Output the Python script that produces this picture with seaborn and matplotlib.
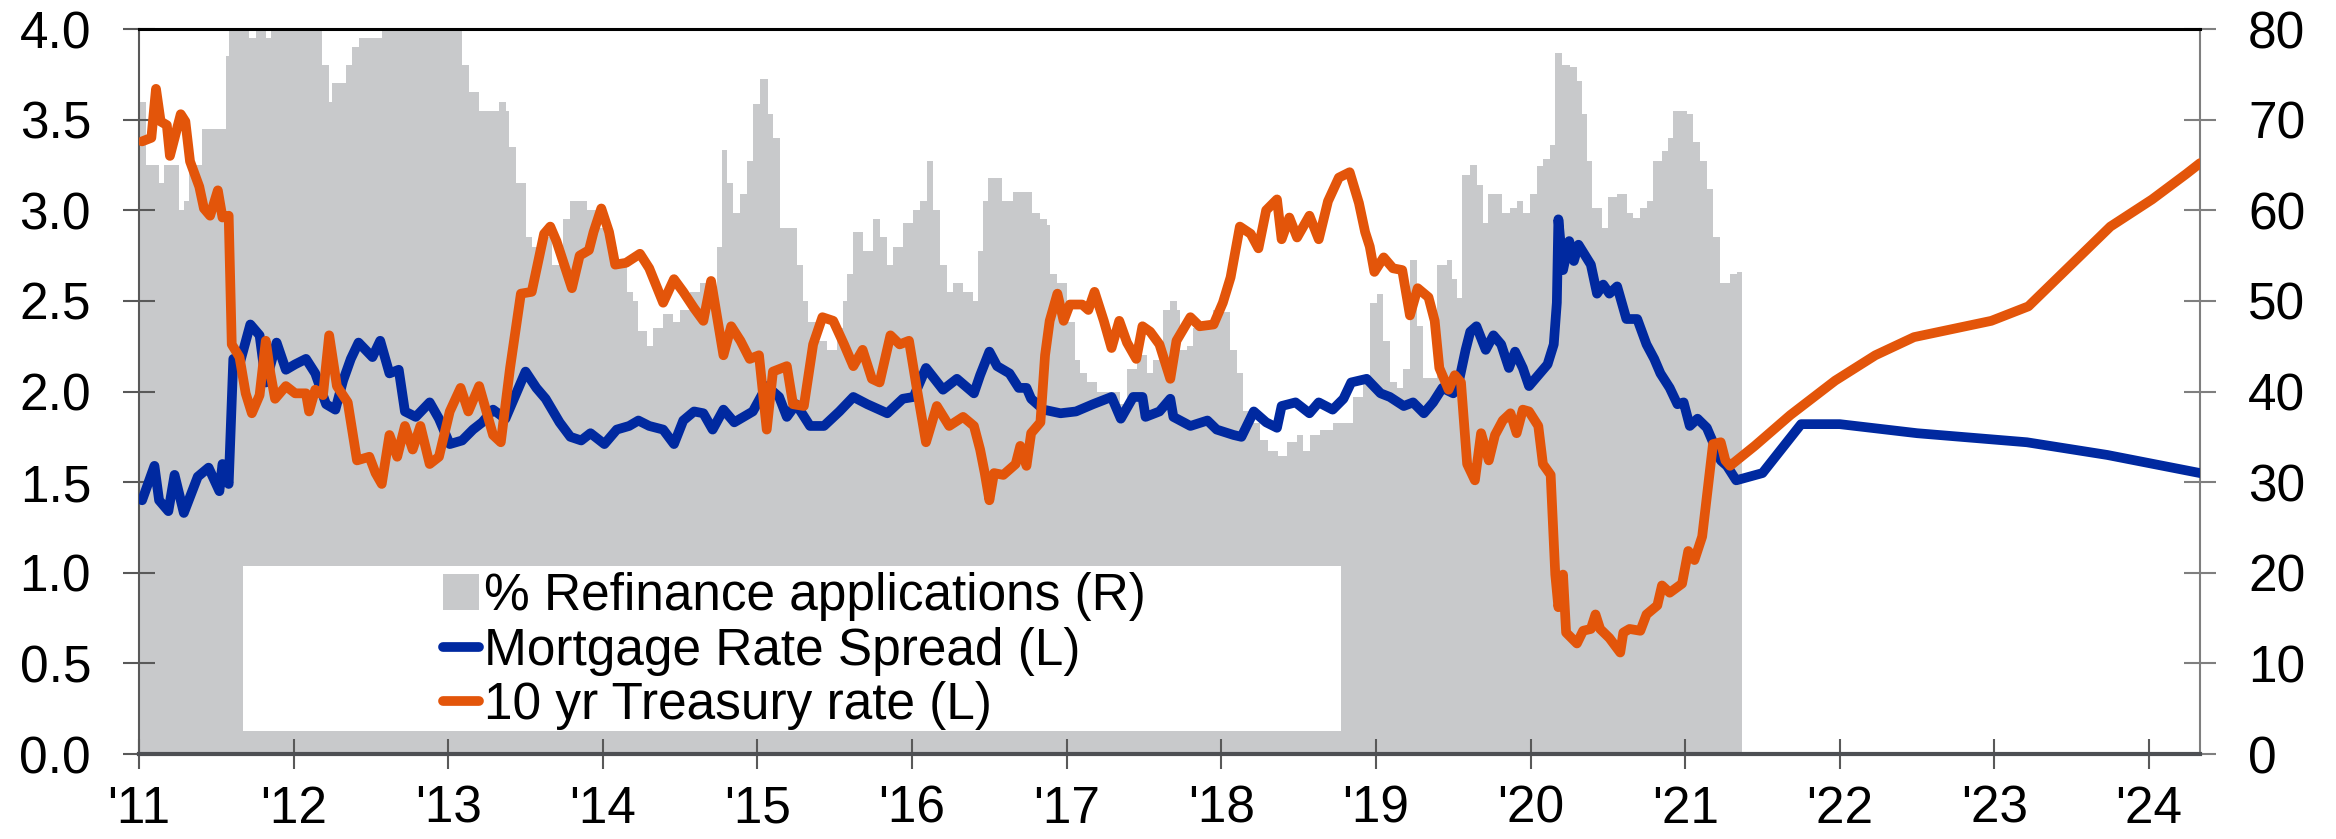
import numpy as np
import matplotlib
matplotlib.use("Agg")
import matplotlib.pyplot as plt
import seaborn as sns
from matplotlib.patches import Patch, Rectangle
from matplotlib.lines import Line2D

# % refinance applications (right axis)
refi_years = [2011.0, 2011.043, 2011.129, 2011.162, 2011.259, 2011.291, 2011.323, 2011.41, 2011.561, 2011.582,
              2011.712, 2011.755, 2011.819, 2011.852, 2012.186, 2012.229, 2012.251, 2012.337, 2012.38, 2012.423,
              2012.574, 2013.091, 2013.135, 2013.199, 2013.329, 2013.372, 2013.393, 2013.436, 2013.501, 2013.544,
              2013.609, 2013.674, 2013.744, 2013.787, 2013.895, 2013.981, 2014.025, 2014.089, 2014.154, 2014.197,
              2014.229, 2014.283, 2014.326, 2014.391, 2014.456, 2014.499, 2014.564, 2014.628, 2014.693, 2014.736,
              2014.768, 2014.801, 2014.844, 2014.887, 2014.93, 2014.973, 2015.016, 2015.07, 2015.103, 2015.146,
              2015.254, 2015.297, 2015.329, 2015.383, 2015.448, 2015.512, 2015.555, 2015.577, 2015.62, 2015.685,
              2015.749, 2015.792, 2015.836, 2015.879, 2015.943, 2016.008, 2016.051, 2016.094, 2016.137, 2016.181,
              2016.224, 2016.267, 2016.332, 2016.396, 2016.429, 2016.461, 2016.493, 2016.58, 2016.655, 2016.774,
              2016.827, 2016.871, 2016.892, 2016.935, 2017.0, 2017.054, 2017.086, 2017.129, 2017.194, 2017.345,
              2017.388, 2017.453, 2017.517, 2017.561, 2017.625, 2017.668, 2017.711, 2017.733, 2017.776, 2017.819,
              2017.906, 2017.949, 2018.013, 2018.056, 2018.1, 2018.143, 2018.207, 2018.25, 2018.304, 2018.369,
              2018.423, 2018.488, 2018.531, 2018.574, 2018.639, 2018.725, 2018.854, 2018.919, 2018.962, 2019.005,
              2019.048, 2019.091, 2019.134, 2019.178, 2019.221, 2019.264, 2019.307, 2019.393, 2019.458, 2019.49,
              2019.523, 2019.555, 2019.609, 2019.652, 2019.695, 2019.727, 2019.814, 2019.868, 2019.911, 2019.954,
              2019.997, 2020.04, 2020.083, 2020.126, 2020.159, 2020.202, 2020.256, 2020.299, 2020.331, 2020.363,
              2020.396, 2020.46, 2020.504, 2020.558, 2020.622, 2020.665, 2020.708, 2020.752, 2020.795, 2020.849,
              2020.892, 2020.924, 2021.01, 2021.053, 2021.096, 2021.14, 2021.183, 2021.226, 2021.291, 2021.334,
              2021.37]
refi_pct = [72, 65, 63, 65, 60, 61, 65, 69, 77, 80,
            79, 80, 79, 80, 76, 72, 74, 76, 78, 79,
            80, 76, 73, 71, 72, 71, 67, 63, 57, 56,
            57, 54, 59, 61, 60, 58, 56, 54, 51, 50,
            46.7, 45, 47, 48.5, 47.7, 49, 51, 52, 51, 56,
            66.7, 63, 59.7, 61.8, 65.4, 71.7, 74.5, 70.6, 68, 58,
            54, 50, 47.7, 45.6, 44.6, 47, 50, 53, 57.6, 55.5,
            59, 57, 54, 56, 58.6, 60, 61, 65.4, 60, 54,
            51, 52, 51, 50, 55.5, 61, 63.6, 61, 62, 59.7,
            59, 58.4, 53, 52, 47.7, 43.5, 42, 41, 40, 38.6,
            42.5, 44, 42, 43.5, 49, 50, 49, 44.6, 45, 47,
            47.7, 49, 48.8, 44.6, 42, 37.8, 36.5, 34.7, 33.4, 32.9,
            34.4, 35.2, 33.4, 35.2, 35.7, 36.5, 39.4, 41.5, 49.8, 50.8,
            45.6, 41, 40.4, 42.5, 54.5, 47.2, 41.5, 54, 54.5, 52.4,
            50.3, 63.9, 65, 62.8, 58.6, 61.8, 59.7, 60.2, 61, 59.7,
            61.8, 64.9, 65.7, 67.2, 77.4, 76, 75.8, 74.3, 70.6, 65.4,
            60.2, 58, 61.5, 61.8, 59.7, 59.2, 60.2, 61, 65.4, 66.5,
            68, 71, 70.6, 67.5, 65.4, 62.3, 57, 52, 53, 53.2,
            53.2]

# Mortgage rate spread (left axis), history then projection
spread_years = [2011.02, 2011.10, 2011.13, 2011.19, 2011.23, 2011.29, 2011.38, 2011.45, 2011.52, 2011.54,
                2011.58, 2011.61, 2011.65, 2011.72, 2011.78, 2011.82, 2011.89, 2011.95, 2012.01, 2012.08,
                2012.14, 2012.21, 2012.27, 2012.32, 2012.37, 2012.42, 2012.51, 2012.56, 2012.62, 2012.68,
                2012.72, 2012.79, 2012.88, 2012.94, 2013.01, 2013.09, 2013.16, 2013.22, 2013.29, 2013.37,
                2013.44, 2013.50, 2013.57, 2013.63, 2013.72, 2013.79, 2013.86, 2013.92, 2014.01, 2014.09,
                2014.17, 2014.23, 2014.30, 2014.39, 2014.46, 2014.52, 2014.59, 2014.65, 2014.71, 2014.78,
                2014.85, 2014.97, 2015.06, 2015.14, 2015.19, 2015.25, 2015.34, 2015.43, 2015.53, 2015.62,
                2015.71, 2015.84, 2015.94, 2016.01, 2016.09, 2016.20, 2016.29, 2016.40, 2016.44, 2016.50,
                2016.55, 2016.63, 2016.69, 2016.74, 2016.77, 2016.85, 2016.96, 2017.06, 2017.17, 2017.29,
                2017.35, 2017.43, 2017.49, 2017.51, 2017.60, 2017.67, 2017.69, 2017.80, 2017.91, 2017.97,
                2018.08, 2018.13, 2018.21, 2018.29, 2018.36, 2018.39, 2018.48, 2018.57, 2018.63, 2018.72,
                2018.79, 2018.84, 2018.94, 2019.03, 2019.09, 2019.18, 2019.24, 2019.31, 2019.37, 2019.43,
                2019.50, 2019.54, 2019.58, 2019.61, 2019.65, 2019.71, 2019.76, 2019.81, 2019.86, 2019.90,
                2019.95, 2019.99, 2020.06, 2020.11, 2020.15, 2020.17, 2020.18, 2020.21, 2020.25, 2020.28,
                2020.31, 2020.39, 2020.43, 2020.47, 2020.51, 2020.56, 2020.62, 2020.69, 2020.75, 2020.80,
                2020.84, 2020.90, 2020.95, 2020.99, 2021.03, 2021.08, 2021.14, 2021.18, 2021.23, 2021.27,
                2021.33, 2021.50, 2021.75, 2022.0, 2022.5, 2023.21, 2023.73, 2024.33]
spread_vals = [1.40, 1.59, 1.40, 1.34, 1.54, 1.33, 1.53, 1.58, 1.45, 1.60,
               1.49, 2.18, 2.15, 2.37, 2.31, 2.05, 2.27, 2.12, 2.15, 2.18,
               2.10, 1.93, 1.90, 2.06, 2.18, 2.27, 2.19, 2.28, 2.10, 2.12,
               1.89, 1.86, 1.94, 1.85, 1.71, 1.73, 1.79, 1.83, 1.90, 1.85,
               1.99, 2.11, 2.02, 1.96, 1.83, 1.75, 1.73, 1.77, 1.71, 1.79,
               1.81, 1.84, 1.81, 1.79, 1.71, 1.84, 1.89, 1.88, 1.79, 1.90,
               1.83, 1.89, 2.03, 1.97, 1.86, 1.93, 1.81, 1.81, 1.89, 1.97,
               1.93, 1.88, 1.96, 1.97, 2.13, 2.01, 2.07, 1.99, 2.09, 2.22,
               2.14, 2.10, 2.02, 2.02, 1.96, 1.90, 1.88, 1.89, 1.93, 1.97,
               1.85, 1.97, 1.97, 1.86, 1.89, 1.96, 1.86, 1.81, 1.84, 1.79,
               1.76, 1.75, 1.89, 1.83, 1.80, 1.92, 1.94, 1.88, 1.94, 1.90,
               1.96, 2.05, 2.07, 1.99, 1.97, 1.92, 1.94, 1.88, 1.94, 2.02,
               1.99, 2.07, 2.23, 2.33, 2.36, 2.23, 2.31, 2.26, 2.13, 2.22,
               2.13, 2.03, 2.10, 2.15, 2.26, 2.49, 2.95, 2.67, 2.83, 2.72,
               2.81, 2.70, 2.54, 2.59, 2.54, 2.58, 2.40, 2.40, 2.26, 2.18,
               2.10, 2.02, 1.93, 1.94, 1.81, 1.85, 1.80, 1.72, 1.62, 1.59,
               1.51, 1.55, 1.82, 1.82, 1.77, 1.72, 1.65, 1.55]

# 10 yr Treasury rate (left axis), history then projection
ust_years = [2011.02, 2011.08, 2011.11, 2011.14, 2011.18, 2011.20, 2011.27, 2011.30, 2011.33, 2011.39,
             2011.42, 2011.46, 2011.51, 2011.54, 2011.58, 2011.60, 2011.65, 2011.69, 2011.73, 2011.78,
             2011.82, 2011.85, 2011.88, 2011.95, 2012.01, 2012.08, 2012.10, 2012.14, 2012.19, 2012.23,
             2012.28, 2012.35, 2012.41, 2012.49, 2012.53, 2012.57, 2012.62, 2012.67, 2012.72, 2012.77,
             2012.82, 2012.88, 2012.94, 2013.01, 2013.08, 2013.13, 2013.20, 2013.29, 2013.34, 2013.40,
             2013.47, 2013.54, 2013.62, 2013.66, 2013.70, 2013.75, 2013.80, 2013.85, 2013.91, 2013.94,
             2013.99, 2014.04, 2014.08, 2014.15, 2014.24, 2014.30, 2014.39, 2014.46, 2014.52, 2014.59,
             2014.65, 2014.70, 2014.78, 2014.83, 2014.89, 2014.95, 2015.01, 2015.06, 2015.10, 2015.19,
             2015.23, 2015.30, 2015.36, 2015.42, 2015.49, 2015.56, 2015.62, 2015.68, 2015.74, 2015.79,
             2015.86, 2015.92, 2015.98, 2016.03, 2016.09, 2016.16, 2016.24, 2016.33, 2016.40, 2016.44,
             2016.47, 2016.50, 2016.53, 2016.59, 2016.67, 2016.70, 2016.74, 2016.77, 2016.83, 2016.86,
             2016.89, 2016.94, 2016.98, 2017.02, 2017.10, 2017.14, 2017.18, 2017.24, 2017.29, 2017.34,
             2017.39, 2017.45, 2017.49, 2017.54, 2017.60, 2017.67, 2017.71, 2017.80, 2017.86, 2017.95,
             2018.01, 2018.06, 2018.12, 2018.19, 2018.24, 2018.29, 2018.36, 2018.39, 2018.44, 2018.49,
             2018.57, 2018.63, 2018.69, 2018.76, 2018.83, 2018.89, 2018.93, 2018.96, 2018.99, 2019.05,
             2019.11, 2019.17, 2019.22, 2019.27, 2019.34, 2019.38, 2019.41, 2019.47, 2019.51, 2019.55,
             2019.59, 2019.64, 2019.68, 2019.73, 2019.77, 2019.82, 2019.87, 2019.91, 2019.95, 2019.99,
             2020.05, 2020.08, 2020.13, 2020.16, 2020.18, 2020.21, 2020.23, 2020.30, 2020.34, 2020.39,
             2020.42, 2020.45, 2020.51, 2020.58, 2020.60, 2020.64, 2020.71, 2020.75, 2020.82, 2020.85,
             2020.90, 2020.98, 2021.02, 2021.06, 2021.11, 2021.14, 2021.18, 2021.23, 2021.26, 2021.29,
             2021.45, 2021.68, 2021.97, 2022.23, 2022.48, 2022.98, 2023.22, 2023.75, 2024.02, 2024.24,
             2024.33]
ust_vals = [3.38, 3.40, 3.67, 3.49, 3.47, 3.30, 3.53, 3.49, 3.27, 3.13,
            3.01, 2.97, 3.11, 2.96, 2.97, 2.26, 2.19, 1.99, 1.88, 1.98,
            2.28, 2.10, 1.96, 2.03, 1.99, 1.99, 1.89, 2.01, 1.98, 2.31,
            2.03, 1.94, 1.62, 1.64, 1.55, 1.49, 1.76, 1.64, 1.81, 1.68,
            1.81, 1.60, 1.64, 1.89, 2.02, 1.89, 2.03, 1.76, 1.72, 2.13,
            2.54, 2.55, 2.87, 2.91, 2.83, 2.70, 2.57, 2.75, 2.78, 2.88,
            3.01, 2.88, 2.70, 2.71, 2.76, 2.68, 2.49, 2.62, 2.55, 2.46,
            2.39, 2.61, 2.20, 2.36, 2.28, 2.18, 2.20, 1.79, 2.11, 2.14,
            1.93, 1.92, 2.26, 2.41, 2.39, 2.26, 2.14, 2.23, 2.07, 2.05,
            2.31, 2.26, 2.28, 2.02, 1.72, 1.92, 1.81, 1.86, 1.81, 1.68,
            1.55, 1.40, 1.55, 1.54, 1.60, 1.70, 1.59, 1.77, 1.83, 2.20,
            2.39, 2.54, 2.39, 2.48, 2.48, 2.45, 2.55, 2.39, 2.24, 2.39,
            2.27, 2.18, 2.36, 2.33, 2.26, 2.07, 2.28, 2.41, 2.36, 2.37,
            2.49, 2.63, 2.91, 2.87, 2.79, 3.00, 3.06, 2.84, 2.96, 2.85,
            2.97, 2.84, 3.05, 3.18, 3.21, 3.04, 2.88, 2.80, 2.66, 2.74,
            2.68, 2.67, 2.42, 2.57, 2.52, 2.39, 2.13, 2.01, 2.09, 2.05,
            1.60, 1.51, 1.77, 1.62, 1.76, 1.84, 1.88, 1.77, 1.90, 1.89,
            1.81, 1.60, 1.54, 0.99, 0.81, 0.99, 0.67, 0.61, 0.68, 0.69,
            0.77, 0.69, 0.64, 0.56, 0.67, 0.69, 0.68, 0.77, 0.82, 0.93,
            0.89, 0.94, 1.12, 1.07, 1.20, 1.42, 1.71, 1.72, 1.62, 1.59,
            1.70, 1.87, 2.06, 2.20, 2.30, 2.39, 2.47, 2.91, 3.06, 3.20,
            3.26]

year_ticks = list(range(2011, 2025))
year_labels = ["'" + str(y)[2:] for y in year_ticks]

GRAY = "#C8C9CB"
BLUE = "#0029A0"
ORANGE = "#E3550A"
LW = 7

sns.set_theme(style="white")
plt.rcParams['font.family'] = ['Liberation Sans', 'DejaVu Sans']

fig = plt.figure(figsize=(23.36, 8.39), dpi=100)
ax = fig.add_axes([0.0595, 0.1013, 0.8823, 0.8641])
ax2 = ax.twinx()

# gray area on the right axis, drawn behind the lines
ax2.fill_between(refi_years, refi_pct, step="post", color=GRAY, linewidth=0)
ax.set_zorder(ax2.get_zorder() + 1)
ax.patch.set_visible(False)

# white box behind the legend
ax.add_patch(Rectangle((0.0505, 0.032), 0.5325, 0.227, transform=ax.transAxes,
                       facecolor="white", edgecolor="none", zorder=1))

sns.lineplot(x=spread_years, y=spread_vals, ax=ax, color=BLUE, linewidth=LW,
             estimator=None, solid_joinstyle="round", solid_capstyle="round", zorder=3)
sns.lineplot(x=ust_years, y=ust_vals, ax=ax, color=ORANGE, linewidth=LW,
             estimator=None, solid_joinstyle="round", solid_capstyle="round", zorder=4)

ax.set_xlim(2011, 2024.33)
ax.set_ylim(0, 4)
ax2.set_ylim(0, 80)
ax.set_xticks(year_ticks)
ax.set_xticklabels(year_labels)
ax.set_yticks(np.arange(0, 4.01, 0.5))
ax.set_yticklabels([f"{v:.1f}" for v in np.arange(0, 4.01, 0.5)])
ax2.set_yticks(range(0, 81, 10))

ax.tick_params(axis="x", direction="inout", length=22, width=1.5, color="#595959",
               pad=11, labelsize=37, labelcolor="black", bottom=True)
ax.tick_params(axis="y", direction="inout", length=23, width=1.5, color="#595959",
               pad=23, labelsize=37, labelcolor="black", left=True)
ax2.tick_params(axis="y", direction="inout", length=23, width=1.5, color="#7f7f7f",
                pad=23, labelsize=37, labelcolor="black", right=True)

for s in ["left", "right", "top", "bottom"]:
    ax2.spines[s].set_visible(False)
ax2.spines["right"].set_visible(True)
ax2.spines["right"].set_color("#7f7f7f")
ax2.spines["right"].set_linewidth(1.5)
ax.spines["right"].set_visible(False)
ax.spines["top"].set_color("black")
ax.spines["top"].set_linewidth(2.2)
ax.spines["left"].set_color("#595959")
ax.spines["left"].set_linewidth(1.5)
ax.spines["bottom"].set_color("#4d4f53")
ax.spines["bottom"].set_linewidth(3)
ax.grid(False)
ax2.grid(False)

handles = [Patch(facecolor=GRAY, edgecolor="none"),
           Line2D([], [], color=BLUE, linewidth=LW),
           Line2D([], [], color=ORANGE, linewidth=LW)]
labels = ["% Refinance applications (R)", "Mortgage Rate Spread (L)", "10 yr Treasury rate (L)"]
ax.legend(handles, labels, loc="center left", bbox_to_anchor=(0.1475, 0.142), frameon=False,
          fontsize=37, handlelength=0.7, handletextpad=0.1, labelspacing=0.1,
          borderpad=0, borderaxespad=0, labelcolor="black")

fig.savefig("out.png", dpi=100)
